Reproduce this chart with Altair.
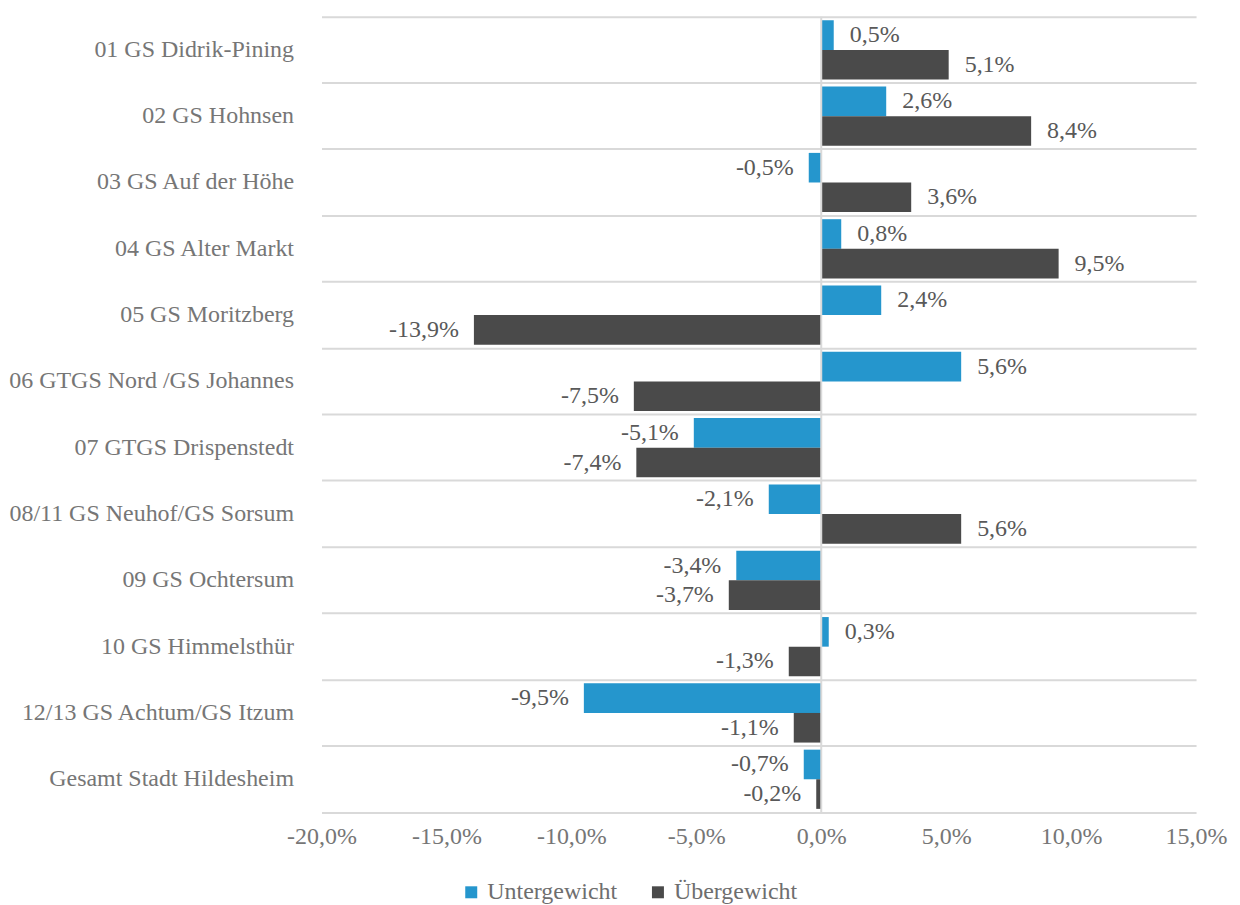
import altair as alt
import pandas as pd

categories = [
    "01 GS Didrik-Pining",
    "02 GS Hohnsen",
    "03 GS Auf der Höhe",
    "04 GS Alter Markt",
    "05 GS Moritzberg",
    "06 GTGS Nord /GS Johannes",
    "07 GTGS Drispenstedt",
    "08/11 GS Neuhof/GS Sorsum",
    "09 GS Ochtersum",
    "10 GS Himmelsthür",
    "12/13 GS Achtum/GS Itzum",
    "Gesamt Stadt Hildesheim",
]
series = ["Untergewicht", "Übergewicht"]
untergewicht = [0.5, 2.6, -0.5, 0.8, 2.4, 5.6, -5.1, -2.1, -3.4, 0.3, -9.5, -0.7]
uebergewicht = [5.1, 8.4, 3.6, 9.5, -13.9, -7.5, -7.4, 5.6, -3.7, -1.3, -1.1, -0.2]
colors = ["#2596cd", "#4a4a4a"]
x_ticks = [-20, -15, -10, -5, 0, 5, 10, 15]

rows = []
for c, u, o in zip(categories, untergewicht, uebergewicht):
    rows.append({"cat": c, "series": series[0], "value": u})
    rows.append({"cat": c, "series": series[1], "value": o})
df = pd.DataFrame(rows)

FONT = "Times New Roman"
FS = 24
FMT = "replace(replace(format(datum.value, '.1f'), '.', ','), '\u2212', '-') + '%'"

y_enc = alt.Y(
    "cat:N",
    sort=categories,
    scale=alt.Scale(paddingInner=0, paddingOuter=0),
    axis=alt.Axis(
        title=None,
        grid=True,
        bandPosition=0,
        gridColor="#d9d9d9",
        gridWidth=2,
        domain=False,
        ticks=False,
        labelFont=FONT,
        labelFontSize=FS,
        labelColor="#767676",
        labelPadding=28,
        labelLimit=400,
    ),
)
yoff = alt.YOffset(
    "series:N", sort=series, scale=alt.Scale(paddingInner=0, paddingOuter=0.12)
)
x_enc = alt.X(
    "value:Q",
    scale=alt.Scale(domain=[-20, 15], nice=False, zero=False),
    axis=alt.Axis(
        title=None,
        values=x_ticks,
        grid=False,
        ticks=False,
        domain=True,
        domainColor="#d9d9d9",
        domainWidth=2,
        labelFont=FONT,
        labelFontSize=FS,
        labelColor="#767676",
        labelPadding=12,
        labelFlush=False,
        labelOverlap=False,
        labelBound=False,
        labelExpr=FMT,
    ),
)

base = alt.Chart(df).transform_calculate(label=FMT)

bars = base.mark_bar(stroke=None).encode(
    y=y_enc,
    yOffset=yoff,
    x=x_enc,
    color=alt.Color(
        "series:N",
        sort=series,
        scale=alt.Scale(domain=series, range=colors),
        legend=alt.Legend(
            title=None,
            orient="none",
            legendX=138,
            legendY=865,
            direction="horizontal",
            symbolType="square",
            symbolSize=144,
            symbolStrokeWidth=0,
            labelFont=FONT,
            labelFontSize=FS,
            labelColor="#6e6e6e",
            columnPadding=28,
            labelOffset=4,
        ),
    ),
)

zero = alt.Chart(pd.DataFrame({"z": [0]})).mark_rule(
    color="#d9d9d9", strokeWidth=2
).encode(x=alt.X("z:Q"))

pos_text = base.transform_filter("datum.value >= 0").mark_text(
    align="left", baseline="middle", dx=16, font=FONT, fontSize=FS, color="#595959"
).encode(y=alt.Y("cat:N", sort=categories), yOffset=yoff, x="value:Q", text="label:N")

neg_text = base.transform_filter("datum.value < 0").mark_text(
    align="right", baseline="middle", dx=-15, font=FONT, fontSize=FS, color="#595959"
).encode(y=alt.Y("cat:N", sort=categories), yOffset=yoff, x="value:Q", text="label:N")

chart = (
    alt.layer(bars, zero, pos_text, neg_text)
    .properties(width=876, height=797, padding={"left": 0, "top": 7, "right": 5, "bottom": 5})
    .configure_view(stroke=None)
)

chart.save("out.html", embed_options={"renderer": "svg", "actions": False})
